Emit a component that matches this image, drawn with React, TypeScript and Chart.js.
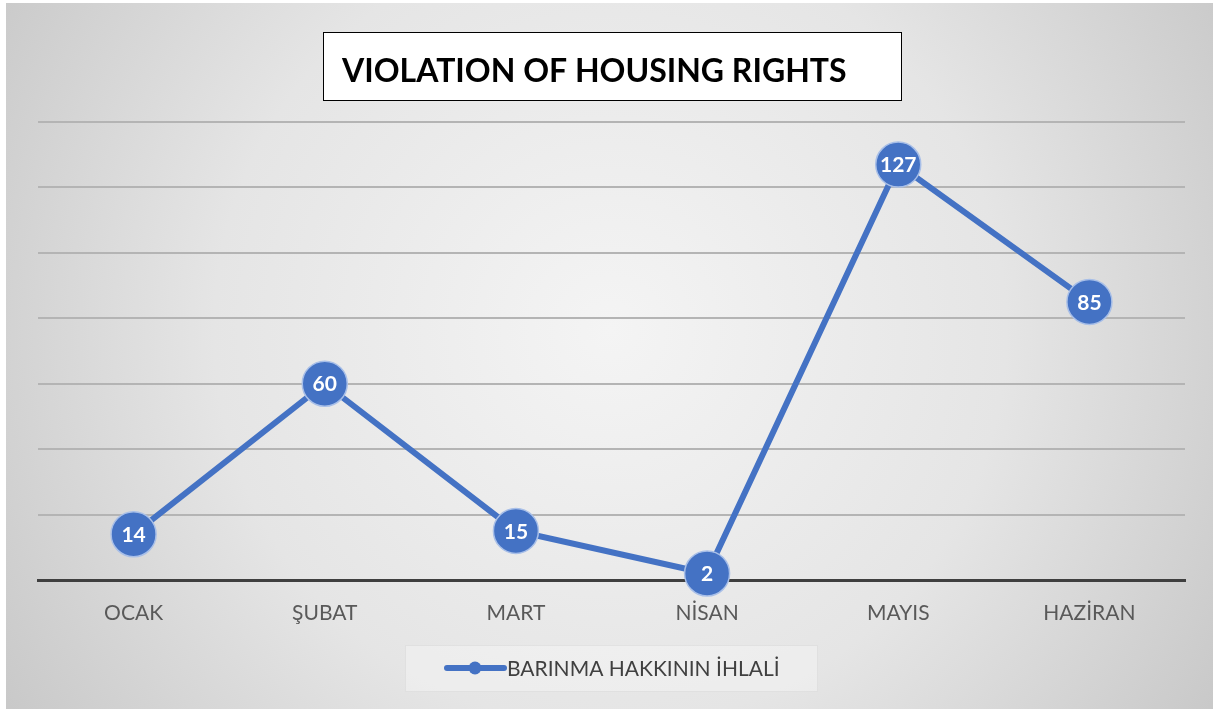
import React, { useEffect, useRef } from "react";
import { Chart, registerables } from "chart.js";

Chart.register(...registerables);

const categories = ["OCAK", "ŞUBAT", "MART", "NİSAN", "MAYIS", "HAZİRAN"];
const seriesName = "BARINMA HAKKININ İHLALİ";
const values = [14, 60, 15, 2, 127, 85];
const titleText = "VIOLATION OF HOUSING RIGHTS";

const BLUE = "#4472C4";
const FONT = "Lato, 'Open Sans', sans-serif";

const backgroundPlugin = {
  id: "bgPlugin",
  beforeDraw(chart: any) {
    const { ctx, width, height } = chart;
    ctx.save();
    ctx.fillStyle = "#ffffff";
    ctx.fillRect(0, 0, width, height);
    const g = ctx.createRadialGradient(610, 330, 0, 610, 330, 720);
    g.addColorStop(0, "#f4f4f4");
    g.addColorStop(0.55, "#e5e5e5");
    g.addColorStop(1, "#c8c8c8");
    ctx.fillStyle = g;
    ctx.fillRect(6, 3, width - 6, height - 3);
    ctx.restore();
  },
};

const overlayPlugin = {
  id: "overlayPlugin",
  afterDraw(chart: any) {
    const { ctx } = chart;
    ctx.save();
    // Title box
    ctx.fillStyle = "#ffffff";
    ctx.fillRect(323.5, 32.5, 578, 68);
    ctx.strokeStyle = "#000000";
    ctx.lineWidth = 1;
    ctx.strokeRect(323.5, 32.5, 578, 68);
    ctx.fillStyle = "#000000";
    ctx.font = `bold 32px ${FONT}`;
    ctx.textAlign = "left";
    ctx.textBaseline = "alphabetic";
    ctx.fillText(titleText, 342, 82);

    // Data labels
    const meta = chart.getDatasetMeta(0);
    ctx.font = `bold 21px ${FONT}`;
    ctx.fillStyle = "#ffffff";
    ctx.textAlign = "center";
    ctx.textBaseline = "middle";
    meta.data.forEach((pt: any, i: number) => {
      ctx.fillText(String(values[i]), pt.x, pt.y + 1);
    });

    // Legend
    ctx.fillStyle = "rgba(255,255,255,0.3)";
    ctx.fillRect(405, 645, 413, 47);
    ctx.strokeStyle = "rgba(0,0,0,0.05)";
    ctx.strokeRect(405.5, 645.5, 412, 46);
    ctx.strokeStyle = BLUE;
    ctx.lineWidth = 6;
    ctx.lineCap = "round";
    ctx.beginPath();
    ctx.moveTo(447, 668);
    ctx.lineTo(504, 668);
    ctx.stroke();
    ctx.fillStyle = BLUE;
    ctx.beginPath();
    ctx.arc(475, 668, 6.5, 0, Math.PI * 2);
    ctx.fill();
    ctx.fillStyle = "#404040";
    ctx.font = `21px ${FONT}`;
    ctx.textAlign = "left";
    ctx.textBaseline = "middle";
    ctx.fillText(seriesName, 507, 669);
    ctx.restore();
  },
};

export default function App() {
  const ref = useRef<HTMLCanvasElement | null>(null);
  useEffect(() => {
    if (!ref.current) return;
    const chart = new Chart(ref.current, {
      type: "line",
      data: {
        labels: categories,
        datasets: [
          {
            label: seriesName,
            data: values,
            borderColor: BLUE,
            borderWidth: 6,
            backgroundColor: BLUE,
            pointRadius: 22.5,
            pointHoverRadius: 22.5,
            pointBackgroundColor: BLUE,
            pointBorderColor: "#a8bfe8",
            pointBorderWidth: 1.5,
            tension: 0,
            fill: false,
            clip: false as any,
          },
        ],
      },
      options: {
        animation: false,
        responsive: false,
        maintainAspectRatio: false,
        devicePixelRatio: 1,
        layout: { padding: { top: 122, left: 38, right: 28, bottom: 0 } },
        plugins: {
          legend: { display: false },
          title: { display: false },
          tooltip: { enabled: false },
        },
        scales: {
          x: {
            offset: true,
            grid: { display: false, drawTicks: false },
            border: { display: true, color: "#3f3f3f", width: 3 },
            ticks: {
              color: "#595959",
              font: { family: FONT, size: 21 },
              padding: 21,
            },
            afterFit(scale: any) {
              scale.height = 129;
            },
          },
          y: {
            min: 0,
            max: 140,
            ticks: { display: false, stepSize: 20 },
            grid: { color: "#b4b4b4", lineWidth: 2, drawTicks: false },
            border: { display: false },
            afterFit(scale: any) {
              scale.width = 0;
            },
          },
        },
      },
      plugins: [backgroundPlugin, overlayPlugin],
    });
    return () => chart.destroy();
  }, []);
  return (
    <div style={{ position: "fixed", left: 0, top: 0, width: 1213, height: 709 }}>
      <canvas ref={ref} width={1213} height={709} style={{ display: "block", width: 1213, height: 709 }} />
    </div>
  );
}
